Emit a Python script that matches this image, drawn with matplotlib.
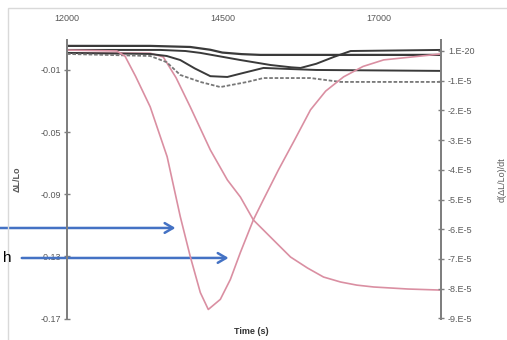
import matplotlib.pyplot as plt
from matplotlib.patches import Rectangle

# time axis (s)
time_ticks = [12000, 14500, 17000]

# dL/Lo series (left axis), dark lines
t_k1 = [12000, 13335, 13978, 14300, 14492, 14800, 15103, 18000]
v_k1 = [0.0055, 0.0055, 0.0048, 0.0030, 0.0012, 0.0002, -0.0003, -0.0003]

t_k2 = [12000, 13495, 13900, 14139, 14782, 15264, 15600, 15747, 16000, 16282, 16551, 18000]
v_k2 = [0.0029, 0.0029, 0.0022, 0.0010, -0.0036, -0.0068, -0.0083, -0.0087, -0.0060,
        -0.0016, 0.0022, 0.0029]

t_k3 = [12000, 13335, 13600, 13817, 14050, 14300, 14573, 14830, 15152, 15586, 16000, 18000]
v_k3 = [0.0010, 0.0003, -0.0010, -0.0036, -0.0090, -0.0140, -0.0145, -0.0119, -0.0087,
        -0.0094, -0.0100, -0.0106]

t_k4 = [12000, 13335, 13600, 13817, 14139, 14460, 14894, 15152, 15907, 16390, 18000]
v_k4 = [0.0003, -0.0010, -0.0050, -0.0132, -0.0177, -0.0210, -0.0177, -0.0152, -0.0152,
        -0.0177, -0.0177]

# pink dL/Lo curve (left axis)
t_p2 = [12000, 13335, 13544, 13750, 13978, 14300, 14573, 14782, 14991, 15313, 15586,
        15859, 16116, 16390, 16650, 16920, 17467, 18000]
v_p2 = [0.0010, 0.0008, -0.0016, -0.0150, -0.0338, -0.0615, -0.0808, -0.0918, -0.1066,
        -0.1195, -0.1304, -0.1375, -0.1433, -0.1465, -0.1485, -0.1497, -0.1510, -0.1517]

# pink derivative curve (right axis), in 1e-5 units
t_p1 = [12000, 12800, 12930, 13100, 13335, 13607, 13817, 13978, 14139, 14267, 14460,
        14621, 14782, 14991, 15152, 15393, 15650, 15907, 16150, 16438, 16750, 17081, 18000]
d_p1 = [0.03, 0.0, -0.17, -0.85, -1.88, -3.56, -5.57, -6.92, -8.13, -8.70, -8.36,
        -7.69, -6.78, -5.68, -5.0, -4.0, -3.0, -1.98, -1.35, -0.87, -0.52, -0.30, -0.10]

left_ticks = [-0.17, -0.13, -0.09, -0.05, -0.01]
right_ticks = [0, -1, -2, -3, -4, -5, -6, -7, -8, -9]
right_labels = ["1.E-20", "-1.E-5", "-2.E-5", "-3.E-5", "-4.E-5",
                "-5.E-5", "-6.E-5", "-7.E-5", "-8.E-5", "-9.E-5"]

plt.rcParams['font.family'] = ['Liberation Sans', 'DejaVu Sans']
txt = '#595959'
pink = '#da8fa2'
dark = '#3a3a3a'

fig = plt.figure(figsize=(5.07, 3.4), dpi=100)
ax = fig.add_axes([0.1321, 0.0618, 0.7377, 0.8206])
ax2 = ax.twinx()

ax.plot(t_p2, v_p2, color=pink, lw=1.2)
ax.plot(t_k1, v_k1, color=dark, lw=1.6)
ax.plot(t_k2, v_k2, color=dark, lw=1.4)
ax.plot(t_k3, v_k3, color=dark, lw=1.4)
ax.plot(t_k4, v_k4, color='#777777', lw=1.3, ls=(0, (2, 1)))
ax2.plot(t_p1, [d * 1e-5 for d in d_p1], color=pink, lw=1.2)

ax.set_xlim(12000, 18000)
ax.set_ylim(-0.1703, 0.0093)
ax2.set_ylim(-9.02e-5, 0.37e-5)

ax.xaxis.tick_top()
ax.set_xticks(time_ticks)
ax.set_xticklabels([str(t) for t in time_ticks])
ax.tick_params(axis='x', length=0, pad=12, labelsize=6.5, labelcolor=txt)
ax.set_yticks(left_ticks)
ax.set_yticklabels(["%.2f" % v for v in left_ticks])
ax.tick_params(axis='y', direction='inout', length=4, width=1, color='#7f7f7f',
               labelsize=6.5, labelcolor=txt, pad=2)
ax2.set_yticks([r * 1e-5 for r in right_ticks])
ax2.set_yticklabels(right_labels)
ax2.tick_params(axis='y', direction='inout', length=4, width=1, color='#7f7f7f',
                labelsize=6.5, labelcolor=txt, pad=3)

for a in (ax, ax2):
    for s in ('top', 'bottom'):
        a.spines[s].set_visible(False)
    for s in ('left', 'right'):
        a.spines[s].set_color('#7f7f7f')
        a.spines[s].set_linewidth(1.4)

ax.set_ylabel("ΔL/Lo", fontsize=6.5, color=txt, fontweight='bold', labelpad=14)
ax2.set_ylabel("d(ΔL/Lo)/dt", fontsize=6.5, color=txt, labelpad=17)
fig.text(0.495, 0.024, "Time (s)", fontsize=6.5, color='#333333',
         fontweight='bold', ha='center', va='center')

# chart-area border
fig.add_artist(Rectangle((0.0158, -0.05), 1.2, 1.0265, transform=fig.transFigure,
                         fill=False, edgecolor='#d9d9d9', lw=1))

# blue pointer arrows
arrow_kw = dict(arrowstyle='->,head_length=0.6,head_width=0.35', color='#4472c4', lw=1.8)
ax.annotate('', xy=(13785, -0.1117), xytext=(-5, 112), textcoords='figure pixels',
            xycoords='data', arrowprops=arrow_kw, annotation_clip=False)
ax.annotate('', xy=(14637, -0.1310), xytext=(19, 82), textcoords='figure pixels',
            xycoords='data', arrowprops=arrow_kw, annotation_clip=False)
fig.text(12 / 507, 82 / 340, "h", fontsize=11, color='black', ha='right', va='center')

fig.savefig("out.png", dpi=100)
